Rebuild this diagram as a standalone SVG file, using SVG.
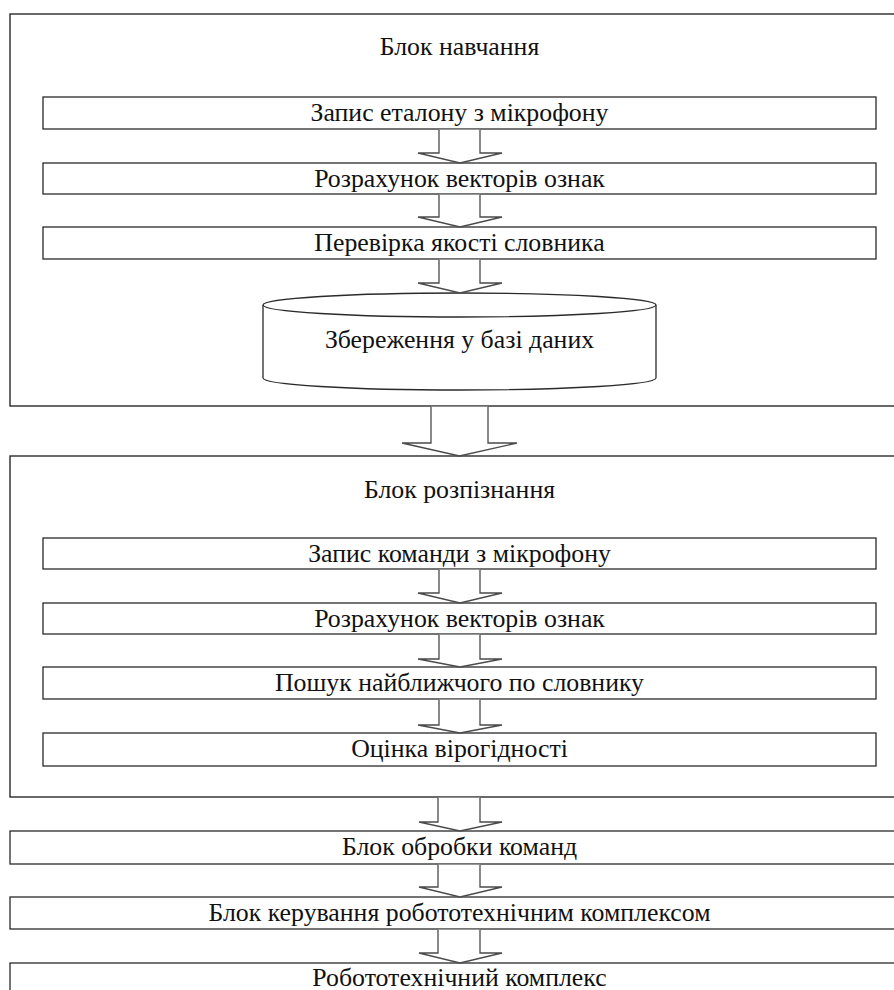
<svg xmlns="http://www.w3.org/2000/svg" width="894" height="990" viewBox="0 0 894 990">
  <style>
    .frame { fill: #fff; stroke: #2a2a2a; stroke-width: 1.4; }
    .box { fill: #fff; stroke: #2a2a2a; stroke-width: 1.3; }
    .arrow { fill: #fff; stroke: #4a4a4a; stroke-width: 1.3; stroke-linejoin: miter; }
    .label { font-family: "Liberation Serif", "Times New Roman", "DejaVu Serif", serif; font-size: 25.8px; fill: #111; text-anchor: middle; }
  </style>
  <rect width="894" height="990" fill="#fff"/>

  <!-- Training block -->
  <g id="training-block">
    <rect class="frame" x="10" y="14" width="900" height="392"/>
    <text class="label" x="459.5" y="55">Блок навчання</text>
  </g>
  <g id="record-reference">
    <rect class="box" x="43" y="97" width="833" height="32"/>
    <text class="label" x="459.5" y="121">Запис еталону з мікрофону</text>
  </g>
  <g id="feature-vectors-1">
    <rect class="box" x="43" y="163" width="833" height="31"/>
    <text class="label" x="459.5" y="187">Розрахунок векторів ознак</text>
  </g>
  <g id="dictionary-check">
    <rect class="box" x="43" y="227" width="833" height="32"/>
    <text class="label" x="459.5" y="251">Перевірка якості словника</text>
  </g>
  <g id="database">
    <path class="box" d="M263,305 A196.5,12 0 0 1 656,305 L656,378 A196.5,12 0 0 1 263,378 Z"/>
    <path class="box" fill="none" d="M263,305 A196.5,12 0 0 0 656,305"/>
    <text class="label" x="459.5" y="348">Збереження у базі даних</text>
  </g>

  <!-- Recognition block -->
  <g id="recognition-block">
    <rect class="frame" x="10" y="456" width="900" height="341"/>
    <text class="label" x="459.5" y="498">Блок розпізнання</text>
  </g>
  <g id="record-command">
    <rect class="box" x="43" y="538" width="833" height="31"/>
    <text class="label" x="459.5" y="562">Запис команди з мікрофону</text>
  </g>
  <g id="feature-vectors-2">
    <rect class="box" x="43" y="603" width="833" height="31"/>
    <text class="label" x="459.5" y="627">Розрахунок векторів ознак</text>
  </g>
  <g id="nearest-search">
    <rect class="box" x="43" y="667" width="833" height="32"/>
    <text class="label" x="459.5" y="691">Пошук найближчого по словнику</text>
  </g>
  <g id="confidence">
    <rect class="box" x="43" y="733" width="833" height="33"/>
    <text class="label" x="459.5" y="757">Оцінка вірогідності</text>
  </g>

  <!-- Downstream blocks -->
  <g id="command-processing">
    <rect class="box" x="10" y="831" width="900" height="33"/>
    <text class="label" x="459.5" y="855">Блок обробки команд</text>
  </g>
  <g id="robot-control">
    <rect class="box" x="10" y="897" width="900" height="32"/>
    <text class="label" x="459.5" y="921">Блок керування робототехнічним комплексом</text>
  </g>
  <g id="robot-complex">
    <rect class="box" x="10" y="963" width="900" height="40"/>
    <text class="label" x="459.5" y="986">Робототехнічний комплекс</text>
  </g>

  <!-- Block arrows between stages -->
  <g id="connectors">
    <path class="arrow" d="M439,129.7 V153 H418 L460,163 L502,153 H480 V129.7"/>
    <path class="arrow" d="M439,194.7 V217 H418 L460,227 L502,217 H480 V194.7"/>
    <path class="arrow" d="M439,259.7 V283 H418 L460,293 L502,283 H480 V259.7"/>
    <path class="arrow" d="M431,406.7 V443 H402 L459.5,456 L517,443 H488 V406.7"/>
    <path class="arrow" d="M439,569.7 V593 H418 L460,603 L502,593 H480 V569.7"/>
    <path class="arrow" d="M439,634.7 V659 H418 L460,667 L502,659 H480 V634.7"/>
    <path class="arrow" d="M439,699.7 V725 H418 L460,733 L502,725 H480 V699.7"/>
    <path class="arrow" d="M438,797.7 V822 H419 L460,831 L502,822 H480 V797.7"/>
    <path class="arrow" d="M438,864.7 V887 H419 L460,897 L502,887 H480 V864.7"/>
    <path class="arrow" d="M438,929.7 V953 H419 L460,963 L502,953 H480 V929.7"/>
  </g>
</svg>
